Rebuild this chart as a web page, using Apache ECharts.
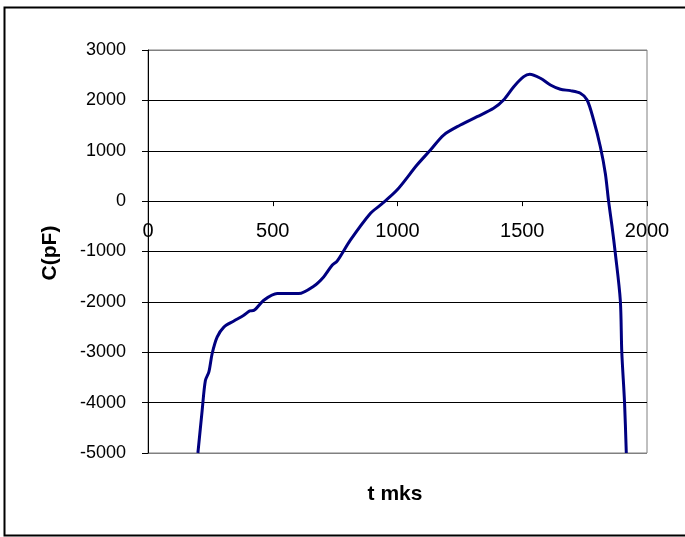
<!DOCTYPE html>
<html>
<head>
<meta charset="utf-8">
<script src="https://cdn.jsdelivr.net/npm/echarts@6/dist/echarts.min.js"></script>
<style>
html,body{margin:0;padding:0;background:#fff;}
#chart{width:685px;height:537px;}
</style>
</head>
<body>
<div id="chart"></div>
<script>
var tValues = [200, 217, 230, 244, 257, 277, 304, 344, 384, 408, 424, 464, 518, 604, 664, 704, 738, 758, 811, 891, 931, 998, 1078, 1132, 1185, 1252, 1319, 1385, 1425, 1466, 1506, 1530, 1573, 1613, 1653, 1693, 1733, 1760, 1786, 1813, 1833, 1846, 1860, 1873, 1893, 1899, 1910, 1917];
var cValues = [-5000, -4160, -3560, -3390, -3030, -2700, -2500, -2380, -2266, -2180, -2170, -1968, -1835, -1835, -1690, -1505, -1272, -1193, -775, -245, -80, 219, 716, 1014, 1312, 1511, 1676, 1842, 2008, 2272, 2471, 2518, 2439, 2306, 2220, 2193, 2141, 2008, 1610, 1080, 550, 0, -510, -1035, -1968, -3000, -4000, -5000];
var xTitle = 't mks';
var yTitle = 'C(pF)';
var xMin = 0, xMax = 2000, xStep = 500;
var yMin = -5000, yMax = 3000, yStep = 1000;

var seriesData = tValues.map(function (t, i) { return [t, cValues[i]]; });
var plain = function (v) { return String(v); };

var gridTop = 50, gridHeight = 403;
// x axis crosses the y axis at value 0: shift it up from the grid bottom by the scale distance of 0 above yMin
var xAxisOffset = -((0 - yMin) / (yMax - yMin)) * gridHeight;

var chart = echarts.init(document.getElementById('chart'), null, {renderer: 'canvas'});
var font = 'Liberation Sans, Arial, sans-serif';
chart.setOption({
  animation: false,
  backgroundColor: '#ffffff',
  grid: {
    left: 148, top: gridTop, width: 499, height: gridHeight,
    show: true, borderColor: '#808080', borderWidth: 1, backgroundColor: 'transparent'
  },
  xAxis: {
    type: 'value', min: xMin, max: xMax, interval: xStep,
    position: 'bottom', offset: xAxisOffset,
    axisLine: {show: true, onZero: false, lineStyle: {color: '#000', width: 1}},
    axisTick: {show: true, length: 5, inside: false, lineStyle: {color: '#000'}},
    axisLabel: {color: '#000', fontFamily: font, fontSize: 20, margin: 20, formatter: plain},
    splitLine: {show: false}
  },
  yAxis: {
    type: 'value', min: yMin, max: yMax, interval: yStep,
    axisLine: {show: true, onZero: false, lineStyle: {color: '#000', width: 1}},
    axisTick: {show: true, length: 6, lineStyle: {color: '#000'}},
    axisLabel: {color: '#000', fontFamily: font, fontSize: 18, margin: 22, formatter: plain},
    splitLine: {show: true, lineStyle: {color: ['#808080', '#000', '#000', '#000', '#000', '#000', '#000', '#000', '#808080'], width: 1}}
  },
  graphic: [
    {type: 'rect', shape: {x: 4.5, y: 7.5, width: 720, height: 528}, style: {fill: 'none', stroke: '#000', lineWidth: 2}, silent: true},
    {type: 'text', x: 395, y: 494, style: {text: xTitle, font: 'bold 21px ' + font, fill: '#000', textAlign: 'center', textVerticalAlign: 'middle'}},
    {type: 'text', x: 50, y: 253, rotation: Math.PI / 2, style: {text: yTitle, font: 'bold 21px ' + font, fill: '#000', textAlign: 'center', textVerticalAlign: 'middle'}}
  ],
  series: [{
    type: 'line', data: seriesData, showSymbol: false, symbol: 'none', smooth: 0.3,
    lineStyle: {color: '#000080', width: 3}, clip: true
  }]
});
</script>
</body>
</html>
